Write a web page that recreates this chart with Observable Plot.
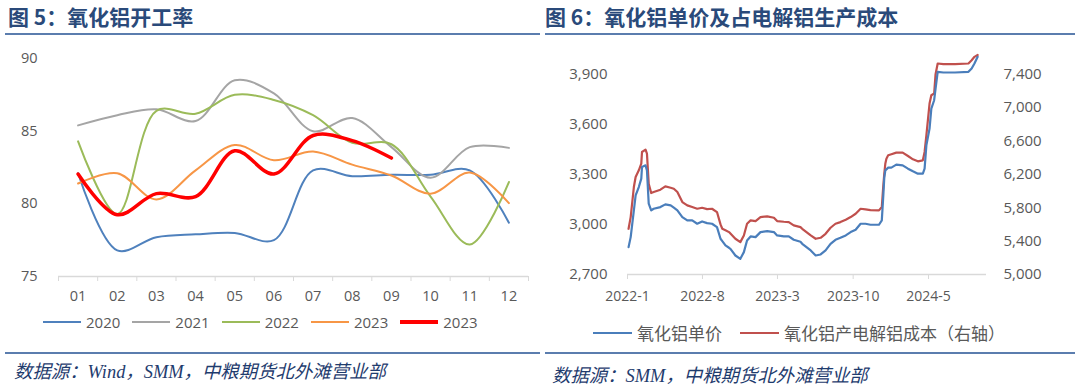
<!DOCTYPE html>
<html>
<head>
<meta charset="utf-8">
<script src="https://cdn.jsdelivr.net/npm/d3@7"></script>
<script src="https://cdn.jsdelivr.net/npm/@observablehq/plot@0.6"></script>
<style>
  html, body { margin: 0; padding: 0; background: #fff; }
  #page { position: relative; width: 1080px; height: 388px; overflow: hidden; font-family: "Open Sans", "Noto Sans CJK SC", sans-serif; }
  .title { position: absolute; top: 2px; font-family: "Noto Sans CJK SC", sans-serif; font-weight: 700; font-size: 21px; color: #2A4A7A; line-height: 28px; white-space: nowrap; }
  .hr { position: absolute; height: 2px; background: #5B7DAE; }
  .source { position: absolute; font-family: "Liberation Serif", "Noto Sans CJK SC", serif; font-style: italic; font-size: 18.4px; color: #1F3C6E; white-space: nowrap; }
  .chart { position: absolute; top: 40px; }
  .legend { position: absolute; display: flex; align-items: center; color: #595959; white-space: nowrap; }
  .legend .sw { display: inline-block; height: 2px; margin-right: 5px; }
  .legend .item { display: flex; align-items: center; }
</style>
</head>
<body>
<div id="page">
  <div class="title" style="left:8px">图 5：氧化铝开工率</div>
  <div class="title" style="left:545px">图 6：氧化铝单价及占电解铝生产成本</div>
  <div class="hr" style="left:5px; width:535px; top:33px"></div>
  <div class="hr" style="left:545px; width:530px; top:33px"></div>
  <div id="left" class="chart" style="left:0px"></div>
  <div id="right" class="chart" style="left:540px"></div>
  <div id="legL" class="legend" style="left:43px; top:312px; font-size:15px"></div>
  <div id="legR" class="legend" style="left:593px; top:320px; font-size:17px; font-family:'Noto Sans CJK SC', sans-serif"></div>
  <div class="hr" style="left:5px; width:535px; top:352px"></div>
  <div class="hr" style="left:545px; width:530px; top:352px"></div>
  <div class="source" style="left:14px; top:357px">数据源：Wind，SMM，中粮期货北外滩营业部</div>
  <div class="source" style="left:552px; top:361px">数据源：SMM，中粮期货北外滩营业部</div>
</div>
<script>
// ---------- Figure 5 data: alumina operating rate (%) ----------
const months = ["01","02","03","04","05","06","07","08","09","10","11","12"];
const rate2020 = [82.1, 76.8, 77.7, 77.9, 78.0, 77.5, 82.3, 81.9, 82.0, 82.0, 82.3, 78.7];
const rate2021 = [85.4, 86.1, 86.5, 85.7, 88.5, 87.6, 85.0, 85.9, 83.9, 81.8, 83.9, 83.85];
const rate2022 = [84.3, 79.3, 86.4, 86.2, 87.5, 87.15, 86.1, 84.2, 84.1, 80.5, 77.2, 81.5];
const rate2023 = [81.4, 82.1, 80.3, 82.3, 84.05, 83.0, 83.6, 82.7, 81.95, 80.7, 82.15, 80.05];
const rate2023b = [82.05, 79.25, 80.7, 80.5, 83.65, 82.05, 84.7, 84.35, 83.15];
const seriesNames = ["2020", "2021", "2022", "2023", "2023"];
const seriesColors = ["#4F81BD", "#A5A5A5", "#9BBB59", "#F79646", "#FF0000"];
const seriesWidths = [2, 2, 2, 2, 3.5];
const yTicksL = [75, 80, 85, 90];

// ---------- Figure 6 data ----------
const dates = ["2022-01-04","2022-01-10","2022-01-19","2022-01-24","2022-02-02","2022-02-09","2022-02-11","2022-02-21","2022-02-25","2022-03-02","2022-03-09","2022-03-16","2022-04-04","2022-04-18","2022-05-03","2022-05-12","2022-05-22","2022-06-05","2022-06-19","2022-07-03","2022-07-17","2022-07-31","2022-08-14","2022-08-28","2022-09-11","2022-09-21","2022-09-26","2022-10-05","2022-10-15","2022-10-19","2022-11-02","2022-11-16","2022-11-26","2022-12-05","2022-12-15","2022-12-29","2023-01-12","2023-01-31","2023-02-19","2023-02-28","2023-03-19","2023-04-02","2023-04-16","2023-05-05","2023-05-10","2023-06-03","2023-06-17","2023-07-01","2023-07-15","2023-07-29","2023-08-12","2023-08-26","2023-09-10","2023-09-24","2023-10-08","2023-10-22","2023-11-05","2023-11-19","2023-12-13","2023-12-21","2023-12-25","2023-12-28","2023-12-31","2024-01-03","2024-01-08","2024-01-17","2024-01-31","2024-02-18","2024-03-04","2024-03-18","2024-04-01","2024-04-15","2024-04-20","2024-04-25","2024-05-04","2024-05-09","2024-05-17","2024-05-21","2024-05-27","2024-06-12","2024-07-15","2024-08-22","2024-08-31","2024-09-08","2024-09-17"];
const price = [2864,2924,3084,3174,3224,3274,3344,3354,3324,3124,3084,3094,3104,3120,3114,3100,3084,3044,3024,3024,3004,3018,3008,3004,2984,2914,2900,2874,2860,2854,2814,2794,2834,2904,2928,2924,2954,2960,2954,2934,2928,2928,2908,2896,2884,2844,2814,2820,2844,2884,2908,2920,2934,2954,2968,3004,3004,2998,2998,3024,3164,3280,3324,3330,3340,3340,3358,3354,3334,3318,3304,3304,3334,3474,3574,3694,3744,3814,3914,3910,3910,3914,3934,3964,4004];
const cost = [5548,5688,6048,6168,6248,6328,6468,6496,6448,6088,5976,5988,6016,6056,6040,6028,5988,5868,5828,5808,5788,5800,5784,5788,5748,5600,5548,5530,5508,5490,5428,5388,5468,5608,5648,5640,5688,5696,5680,5640,5632,5628,5588,5568,5548,5468,5428,5440,5488,5560,5608,5628,5656,5688,5728,5788,5780,5772,5768,5808,6050,6208,6330,6388,6428,6440,6460,6460,6420,6380,6356,6368,6468,6668,7048,7148,7168,7400,7528,7520,7520,7528,7568,7608,7630];
const leftTicksR = [2700, 3000, 3300, 3600, 3900];
const rightTicksR = [5000, 5400, 5800, 6200, 6600, 7000, 7400];
const xTickDates = ["2022-01-01", "2022-08-01", "2023-03-01", "2023-10-01", "2024-05-01"];
const legendR = ["氧化铝单价", "氧化铝产电解铝成本（右轴）"];
const colorsR = ["#4A7EBB", "#C0504D"];

// ---------- Figure 5 chart ----------
const allSeries = [rate2020, rate2021, rate2022, rate2023, rate2023b];
const rows5 = [];
allSeries.forEach((arr, s) => arr.forEach((v, i) => rows5.push({s, m: i + 1, v})));
const monthIdx = months.map((_, i) => i + 1);
const bounds = months.map((_, i) => i + 0.5).concat([months.length + 0.5]);

const chartL = Plot.plot({
  width: 540, height: 270,
  marginTop: 18, marginBottom: 34, marginLeft: 58, marginRight: 12,
  style: {fontFamily: "'Open Sans', sans-serif", fontSize: "14.5px", color: "#595959", background: "transparent"},
  x: {type: "linear", domain: [0.5, 12.5]},
  y: {domain: [75, 90]},
  marks: [
    Plot.axisY({ticks: yTicksL, tickSize: 0, tickPadding: 21, label: null}),
    Plot.ruleY([75], {stroke: "#D9D9D9", strokeWidth: 1.5}),
    Plot.axisX({ticks: bounds, tickSize: 5, tickFormat: () => "", stroke: "#D9D9D9", label: null}),
    Plot.axisX({ticks: monthIdx, tickSize: 0, tickPadding: 14, tickFormat: d => months[d - 1], label: null}),
    ...allSeries.map((arr, s) => Plot.line(rows5.filter(r => r.s === s), {
      x: "m", y: "v", stroke: seriesColors[s], strokeWidth: seriesWidths[s], curve: "catmull-rom"
    }))
  ]
});
document.getElementById("left").appendChild(chartL);

// ---------- Figure 6 chart ----------
const yL = [2700, 4000], yR = [5000, 7600];
const toLeft = v => yL[0] + (v - yR[0]) * (yL[1] - yL[0]) / (yR[1] - yR[0]);
const fromLeft = v => yR[0] + (v - yL[0]) * (yR[1] - yR[0]) / (yL[1] - yL[0]);
const rows6 = dates.map((d, i) => ({date: new Date(d), price: price[i], cost: cost[i]}));
const fmt = d3.format(",");

const chartR = Plot.plot({
  width: 540, height: 270,
  marginTop: 17, marginBottom: 36, marginLeft: 87, marginRight: 94,
  style: {fontFamily: "'Open Sans', sans-serif", fontSize: "15px", color: "#595959", background: "transparent"},
  x: {type: "utc", domain: [new Date("2022-01-01"), new Date("2024-10-12")]},
  y: {domain: yL},
  marks: [
    Plot.axisY({ticks: leftTicksR, tickSize: 0, tickPadding: 20, tickFormat: fmt, label: null}),
    Plot.axisY({anchor: "right", ticks: rightTicksR.map(toLeft), tickSize: 0, tickPadding: 17,
      tickFormat: d => fmt(Math.round(fromLeft(d))), label: null}),
    Plot.ruleY([yL[0]], {stroke: "#D9D9D9", strokeWidth: 1.5}),
    Plot.axisX({ticks: xTickDates.map(d => new Date(d)), tickSize: 5, tickPadding: 12, stroke: "#D9D9D9",
      tickFormat: d => `${d.getUTCFullYear()}-${d.getUTCMonth() + 1}`, label: null, fontSize: "14px"}),
    Plot.line(rows6, {x: "date", y: d => toLeft(d.cost), stroke: colorsR[1], strokeWidth: 2.2}),
    Plot.line(rows6, {x: "date", y: "price", stroke: colorsR[0], strokeWidth: 2.2})
  ]
});
document.getElementById("right").appendChild(chartR);

// ---------- Legends ----------
const legL = document.getElementById("legL");
seriesNames.forEach((n, i) => {
  const it = document.createElement("div");
  it.className = "item";
  it.style.marginRight = "12px";
  it.innerHTML = `<span class="sw" style="width:38px;height:${seriesWidths[i] === 2 ? 2 : 4}px;background:${seriesColors[i]}"></span><span>${n}</span>`;
  legL.appendChild(it);
});
const legREl = document.getElementById("legR");
legendR.forEach((n, i) => {
  const it = document.createElement("div");
  it.className = "item";
  it.style.marginRight = "18px";
  it.innerHTML = `<span class="sw" style="width:39px;background:${colorsR[i]}"></span><span>${n}</span>`;
  legREl.appendChild(it);
});
</script>
</body>
</html>
